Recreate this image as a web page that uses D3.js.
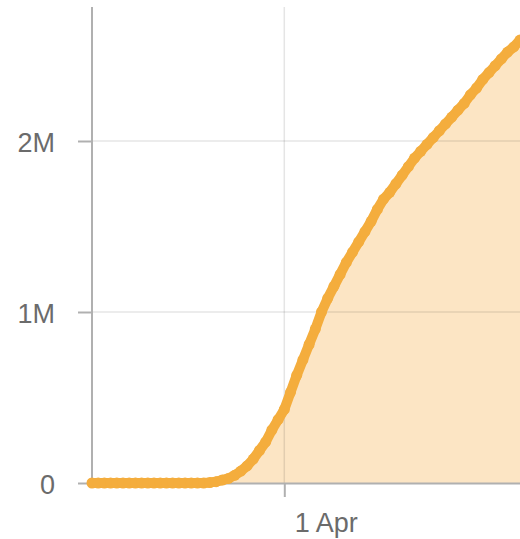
<!DOCTYPE html>
<html>
<head>
<meta charset="utf-8">
<script src="https://cdnjs.cloudflare.com/ajax/libs/d3/7.8.5/d3.min.js"></script>
<style>
  body { margin: 0; background: #fff; }
  svg { display: block; font-family: "Open Sans", "Noto Sans", sans-serif; }
</style>
</head>
<body>
<div id="chart"></div>
<script>
// daily cumulative totals, starting 1 Mar
const startDate = new Date(2020, 2, 1);
const totals = [
  0, 0, 0, 0, 0, 0, 0, 0, 0, 0,
  0, 0, 0, 0, 0, 0, 0, 0, 0, 3000,
  8000, 17000, 27000, 45000, 70000, 100000, 140000, 190000, 240000, 310000,
  370000, 430000, 530000, 630000, 720000, 810000, 900000, 1000000, 1080000, 1150000,
  1220000, 1290000, 1350000, 1410000, 1470000, 1530000, 1600000, 1660000, 1700000, 1750000,
  1800000, 1850000, 1900000, 1940000, 1980000, 2020000, 2060000, 2100000, 2140000, 2180000,
  2220000, 2270000, 2310000, 2360000, 2400000, 2440000, 2480000, 2520000, 2550000, 2590000
];
const yTicks = [0, 1000000, 2000000];
const yTickLabels = ["0", "1M", "2M"];
const xTicks = [new Date(2020, 3, 1)];
const xTickLabels = ["1 Apr"];

const data = totals.map((v, i) => ({ date: d3.timeDay.offset(startDate, i), value: v }));

const W = 520, H = 539;
const margin = { top: 7, right: 0, left: 92 };
const baseY = 483;

const svg = d3.select('#chart').append('svg')
  .attr('width', W)
  .attr('height', H);

const x = d3.scaleTime()
  .domain([startDate, data[data.length - 1].date])
  .range([margin.left, W - margin.right]);

const y = d3.scaleLinear()
  .domain([0, 1000000])
  .range([baseY, 312]);

// area fill
svg.append('path')
  .datum(data)
  .attr('fill', '#fce5c4')
  .attr('d', d3.area().x(d => x(d.date)).y0(y(0)).y1(d => y(d.value)));

// gridlines
svg.append('g')
  .selectAll('line')
  .data(yTicks.slice(1))
  .join('line')
  .attr('x1', margin.left).attr('x2', W)
  .attr('y1', d => y(d)).attr('y2', d => y(d))
  .attr('stroke', 'rgba(0,0,0,0.1)')
  .attr('stroke-width', 1.5);

svg.append('g')
  .selectAll('line')
  .data(xTicks)
  .join('line')
  .attr('x1', d => x(d)).attr('x2', d => x(d))
  .attr('y1', margin.top).attr('y2', y(0))
  .attr('stroke', 'rgba(0,0,0,0.1)')
  .attr('stroke-width', 1.5);

// axes
const yAxis = svg.append('g')
  .attr('transform', `translate(${margin.left},0)`)
  .call(d3.axisLeft(y).tickValues(yTicks).tickFormat((d, i) => yTickLabels[i])
    .tickSize(14).tickSizeOuter(0).tickPadding(23));
yAxis.select('.domain').attr('d', `M0,${margin.top}V${y(0)}`);

const xAxis = svg.append('g')
  .attr('transform', `translate(0,${y(0)})`)
  .call(d3.axisBottom(x).tickValues(xTicks).tickFormat((d, i) => xTickLabels[i])
    .tickSize(14).tickSizeOuter(0));

[yAxis, xAxis].forEach(a => {
  a.select('.domain').attr('stroke', '#b0b0b0').attr('stroke-width', 2);
  a.selectAll('.tick line').attr('stroke', '#b0b0b0').attr('stroke-width', 2);
  a.selectAll('.tick text').attr('fill', '#6b6b6b').style('font-size', '27px');
});
yAxis.selectAll('.tick text').attr('dy', '0.4em');
xAxis.selectAll('.tick text').attr('text-anchor', 'start').attr('x', 10).attr('y', 49).attr('dy', 0);

// line + dots
const orange = '#f4ad3d';
svg.append('path')
  .datum(data)
  .attr('fill', 'none')
  .attr('stroke', orange)
  .attr('stroke-width', 10)
  .attr('stroke-linejoin', 'round')
  .attr('stroke-linecap', 'round')
  .attr('d', d3.line().x(d => x(d.date)).y(d => y(d.value)));

svg.append('g')
  .selectAll('circle')
  .data(data)
  .join('circle')
  .attr('cx', d => x(d.date))
  .attr('cy', d => y(d.value))
  .attr('r', 5.5)
  .attr('fill', orange);
</script>
</body>
</html>
